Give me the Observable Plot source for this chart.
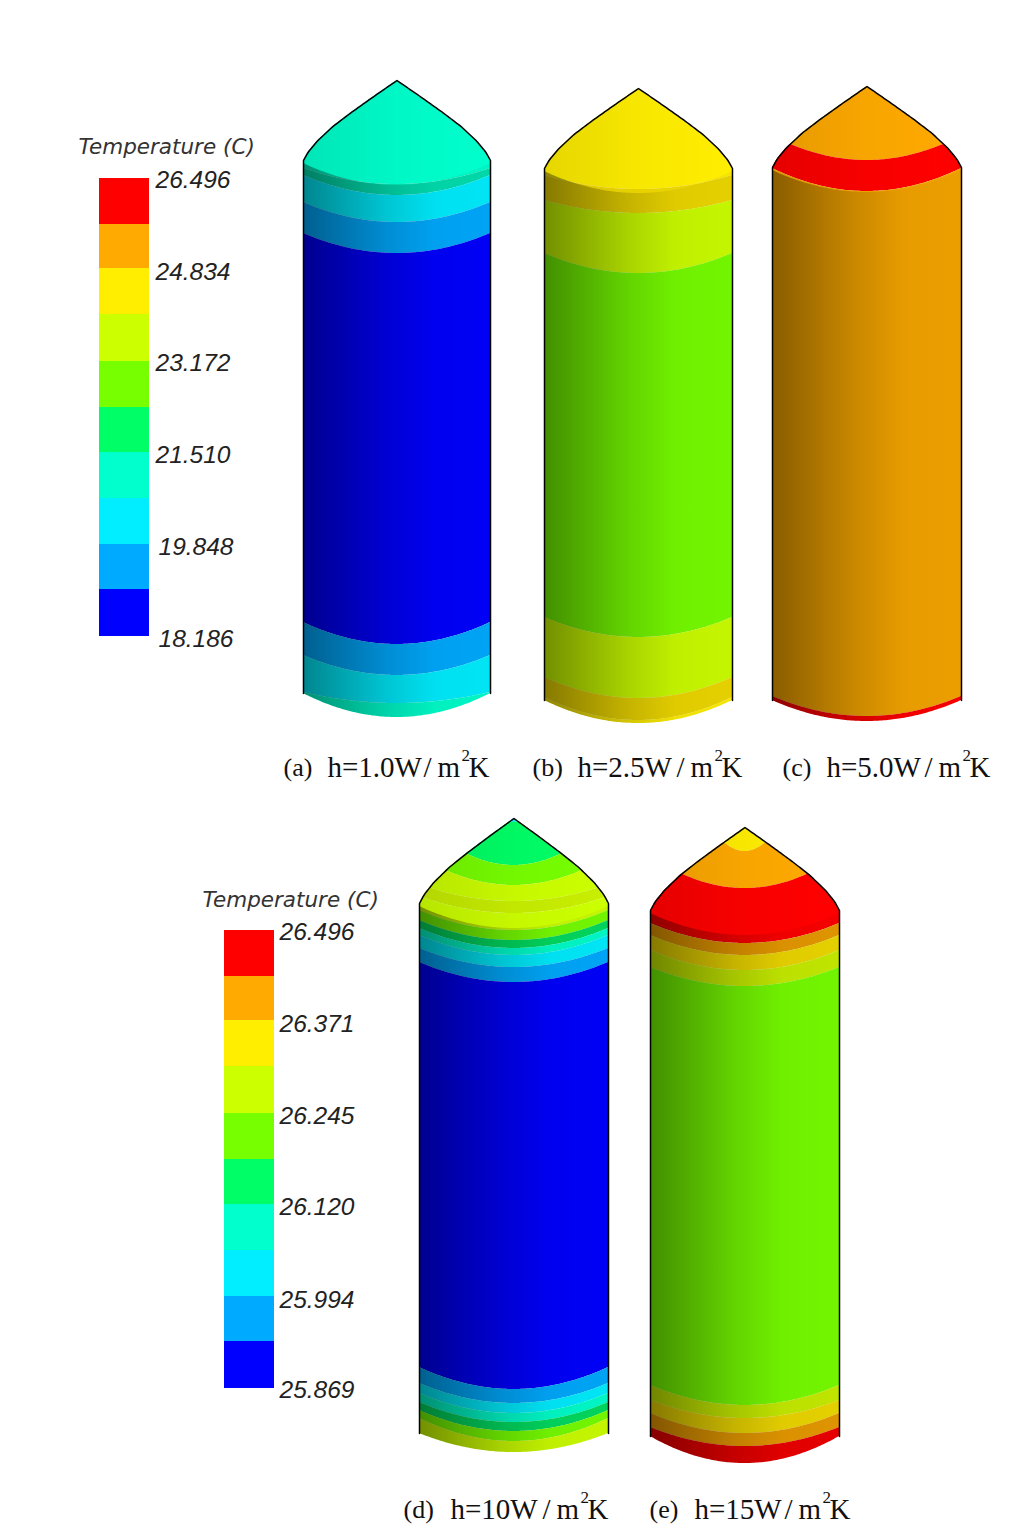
<!DOCTYPE html>
<html><head><meta charset="utf-8">
<script src="https://cdn.jsdelivr.net/npm/d3@7"></script>
<script src="https://cdn.jsdelivr.net/npm/@observablehq/plot@0.6"></script>
<style>html,body{margin:0;padding:0;background:#fff}svg{display:block}</style>
</head><body><div id="chart"></div>
<script>
// colour levels of the temperature contour map
const levelNames  = ["red","orange","yellow","lime","green","spring","teal","cyan","azure","blue",
                     "amber","gold","limeDim","springDim","tealDim","redDim","orangeDim"];
const levelColors = ["#ff0000","#ffaa00","#ffee00","#ccff00","#77ff00","#00ff66","#00ffcc","#00eeff","#00aaff","#0000ff",
                     "#f5a500","#eed800","#c8ee00","#00dc60","#00e0b0","#ee0000","#e89a00"];
// legend
const legendLevels = ["red","orange","yellow","lime","green","spring","teal","cyan","azure","blue"];
const legendTop    = [178,224,268,314,361,407,452,498,544,589];
const legendBottom = [224,268,314,361,407,452,498,544,589,636];
const legendShift2 = 752;
const legendLabels1 = ["26.496","24.834","23.172","21.510","19.848","18.186"];
const legendLabelX1 = [155,155,155,155,158,158];
const legendLabelY1 = [180,272,363,455,547,639];
const legendLabels2 = ["26.496","26.371","26.245","26.120","25.994","25.869"];
const legendLabelX2 = [279,279,279,279,279,279];
const legendLabelY2 = [932,1024,1116,1207,1300,1390];
// silhouette of the nose cone: half-width fraction -> fraction of cone height
const coneU = [0,.26,.5,.685,.85,.95,1];
const coneT = [0,.21,.41,.575,.755,.895,1];
// cylinders: name, left, right, apex, shoulder, bottom at edge, bottom at centre
const cylNames = ["a","b","c","d","e"];
const cylLeft  = [303,544,772,419,650];
const cylRight = [490,732,961,608,839];
const cylApex  = [80,88,86,818,827];
const cylShoulder = [160,168,167,903,910];
const cylBotEdge  = [690,697,697,1430,1433];
const cylBotMid   = [717,723,721,1452,1463];
// band rows: level, boundary y at edge, boundary y at middle, half-width reached by the boundary
const bandsA = [["teal",40,60,1],["tealDim",168,184,1],["cyan",175,195,1],["azure",202,222,1],["blue",233,253,1],
                ["azure",622,644,1],["cyan",655,675,1],["teal",692,703,1]];
const bandsB = [["yellow",40,60,1],["gold",175,189,1],["lime",200,213,1],["green",253,273,1],
                ["lime",617,637,1],["gold",677,698,1],["yellow",697,720,1]];
const bandsC = [["orange",40,60,1],["red",143,160,.83],["amber",168,191,1],["red",696,716,1]];
const bandsD = [["cyan",40,60,1],["spring",819,822,.08],["green",853,865,.51],["lime",870,885,.72],["limeDim",884,901,1],
                ["lime",896,913,1],["green",910,930,1],["springDim",920,940,1],["teal",928,948,1],["cyan",935,955,1],["azure",948,967,1],["blue",962,982,1],
                ["azure",1367,1389,1],["cyan",1383,1403,1],["teal",1393,1413,1],["springDim",1402,1422,1],["green",1410,1431,1],["lime",1418,1441,1]];
const bandsE = [["yellow",40,60,1],["orange",842,851,.22],["red",873,888,.68],["orangeDim",923,943,1],["gold",935,955,1],["limeDim",950,970,1],["green",967,986,1],
                ["limeDim",1385,1405,1],["gold",1400,1418,1],["orangeDim",1413,1433,1],["redDim",1427,1446,1]];
const allBands = [bandsA,bandsB,bandsC,bandsD,bandsE];
// captions, in pieces
const capTag   = ["(a)","(b)","(c)","(d)","(e)"];
const capTagX  = [283,532,782,403,649];
const capMain  = ["h=1.0W","h=2.5W","h=5.0W","h=10W","h=15W"];
const capMainX = [327,577,826,450,694];
const capSlashX= [423,676,924,542,784];
const capMX    = [437,690,938,556,798];
const capSupX  = [461,714,962,580,822];
const capKX    = [468,721,969,587,829];
const capBase  = [767,767,767,1509,1509];
const capSupBase = [755,755,755,1497,1497];
const legendTitles = ["Temperature (C)","Temperature (C)"];
const legendTitleX = [78,202];
const legendTitleY = [147,900];

// ---- tables for the marks ----
const steps = d3.range(-50,51).map(i=>i/50);
const topFrac = d3.scaleLinear(coneU,coneT);
const areaRows=[], bodyRows=[], coneRows=[], outlineRows=[];
cylNames.forEach((name,c)=>{
  const mid=(cylLeft[c]+cylRight[c])/2, half=(cylRight[c]-cylLeft[c])/2;
  const top=u=>cylApex[c]+(cylShoulder[c]-cylApex[c])*topFrac(Math.abs(u));
  const bot=u=>cylBotEdge[c]+3+(cylBotMid[c]-cylBotEdge[c]-3)*(1-u*u);
  const ridge=u=>Math.max(top(u),cylShoulder[c]+3+22*(1-u*u));
  const bands=allBands[c];
  bands.forEach((b,i)=>{
    const curve=(row,u)=>row?row[2]-(row[2]-row[1])*(u/row[3])*(u/row[3]):Infinity;
    for(const u of steps){
      const cl=v=>Math.min(bot(u),Math.max(top(u),v));
      areaRows.push({key:name+i,level:b[0],x:mid+u*half,y1:cl(curve(b,u)),y2:cl(curve(bands[i+1],u))});
    }
  });
  for(const u of steps){
    bodyRows.push({cyl:name,x:mid+u*half,y1:ridge(u),y2:bot(u)});
    coneRows.push({cyl:name,x:mid+u*half,y1:top(u),y2:ridge(u)});
  }
  outlineRows.push({cyl:name,x:cylLeft[c],y:cylBotEdge[c]+3});
  for(const u of steps) outlineRows.push({cyl:name,x:mid+u*half,y:top(u)});
  outlineRows.push({cyl:name,x:cylRight[c],y:cylBotEdge[c]+3});
});
const legendRows=[];
legendLevels.forEach((l,i)=>{
  legendRows.push({level:l,x1:99,x2:149,y1:legendTop[i],y2:legendBottom[i]});
  legendRows.push({level:l,x1:224,x2:274,y1:legendTop[i]+legendShift2,y2:legendBottom[i]+legendShift2});
});
const labelRows=[
  ...legendLabels1.map((t,i)=>({t,x:legendLabelX1[i],y:legendLabelY1[i]})),
  ...legendLabels2.map((t,i)=>({t,x:legendLabelX2[i],y:legendLabelY2[i]}))];
const titleRows=legendTitles.map((t,i)=>({t,x:legendTitleX[i],y:legendTitleY[i]}));
const tagRows=capTag.map((t,i)=>({t,x:capTagX[i],y:capBase[i]}));
const mainRows=capMain.flatMap((t,i)=>[
  {t,x:capMainX[i],y:capBase[i]},{t:"/",x:capSlashX[i],y:capBase[i]},
  {t:"m",x:capMX[i],y:capBase[i]},{t:"K",x:capKX[i],y:capBase[i]}]);
const supRows=capMain.map((t,i)=>({t:"2",x:capSupX[i],y:capSupBase[i]}));

const gradient=(defs,id,stops)=>{
  const ns="http://www.w3.org/2000/svg";
  const g=document.createElementNS(ns,"linearGradient");
  g.setAttribute("id",id);
  stops.forEach(([o,a])=>{
    const s=document.createElementNS(ns,"stop");
    s.setAttribute("offset",o);s.setAttribute("stop-color","#000");s.setAttribute("stop-opacity",a);
    g.appendChild(s);
  });
  defs.appendChild(g);
};
const shadeDefs=()=>{
  const defs=document.createElementNS("http://www.w3.org/2000/svg","defs");
  gradient(defs,"shade",[[0,.44],[.2,.32],[.45,.17],[.7,.06],[1,.04]]);
  gradient(defs,"shadeCone",[[0,.1],[.5,.03],[1,0]]);
  return defs;
};

const serif={textAnchor:"start",fontFamily:"Liberation Serif",fill:"#111"};
const chart=Plot.plot({
  width:1022,height:1530,margin:0,
  x:{domain:[0,1022],range:[0,1022],axis:null},
  y:{domain:[0,1530],range:[0,1530],axis:null},
  color:{type:"ordinal",domain:levelNames,range:levelColors},
  style:{background:"#fff"},
  marks:[
    shadeDefs,
    Plot.areaY(areaRows,{x:"x",y1:"y1",y2:"y2",z:"key",fill:"level"}),
    Plot.areaY(bodyRows,{x:"x",y1:"y1",y2:"y2",z:"cyl",fill:"url(#shade)"}),
    Plot.areaY(coneRows,{x:"x",y1:"y1",y2:"y2",z:"cyl",fill:"url(#shadeCone)"}),
    Plot.line(outlineRows,{x:"x",y:"y",z:"cyl",stroke:"#000",strokeWidth:1.5}),
    Plot.rect(legendRows,{x1:"x1",x2:"x2",y1:"y1",y2:"y2",fill:"level"}),
    Plot.text(labelRows,{x:"x",y:"y",text:"t",textAnchor:"start",fontFamily:"Liberation Sans",fontStyle:"italic",fontSize:24.5,fill:"#222"}),
    Plot.text(titleRows,{x:"x",y:"y",text:"t",textAnchor:"start",fontFamily:"DejaVu Sans",fontStyle:"italic",fontSize:21.5,fill:"#333"}),
    Plot.text(tagRows,{x:"x",y:"y",text:"t",...serif,fontSize:26}),
    Plot.text(mainRows,{x:"x",y:"y",text:"t",...serif,fontSize:29}),
    Plot.text(supRows,{x:"x",y:"y",text:"t",...serif,fontSize:17})
  ]
});
document.getElementById("chart").appendChild(chart);
</script></body></html>
